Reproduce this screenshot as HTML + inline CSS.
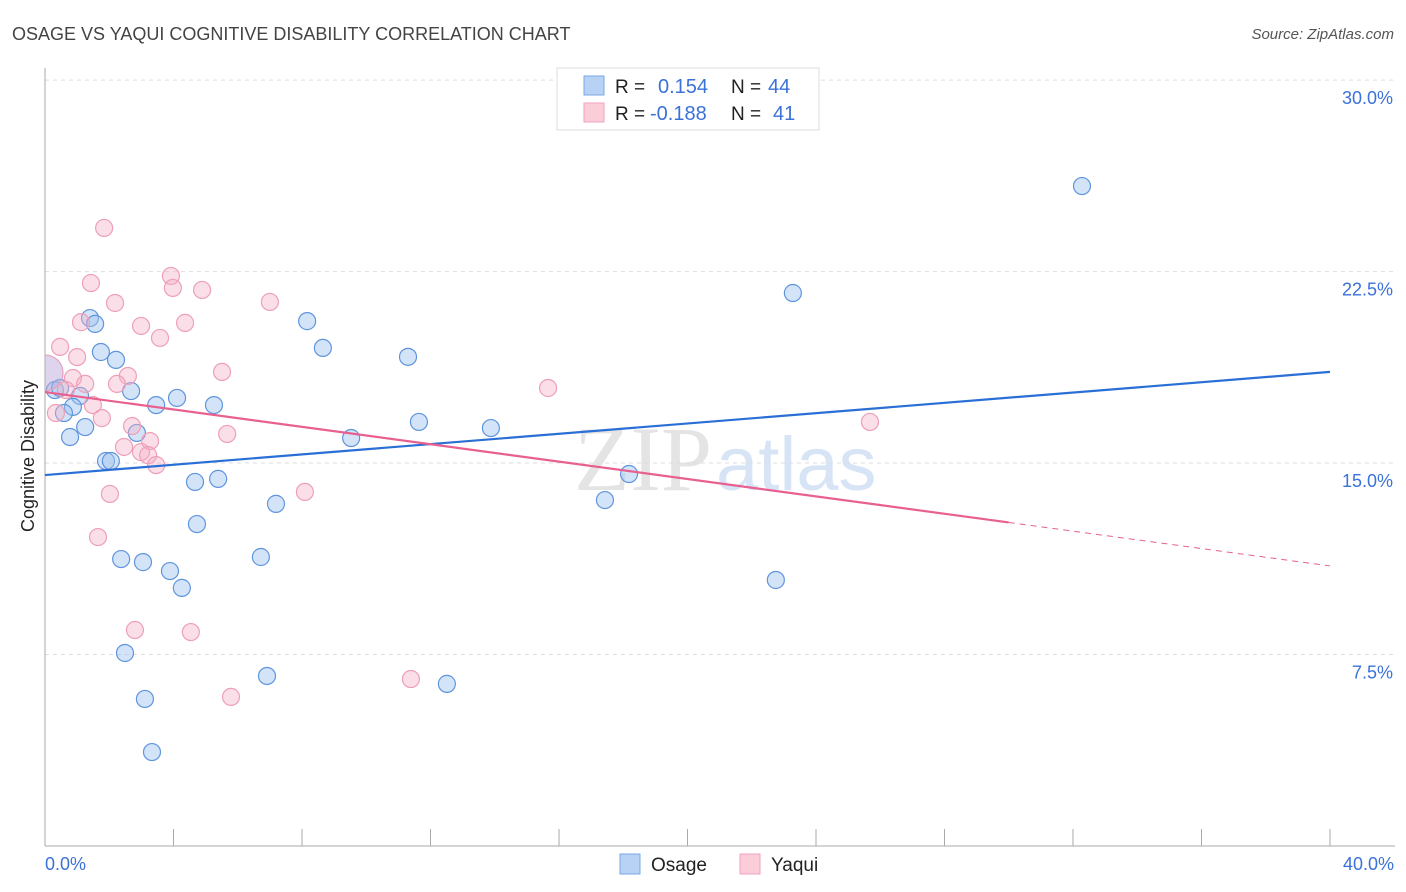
<!DOCTYPE html>
<html><head><meta charset="utf-8"><style>
body{margin:0;background:#fff;font-family:"Liberation Sans",sans-serif;}
#c{position:relative;width:1406px;height:892px;overflow:hidden}
</style></head><body>
<div id="c">
<svg id="s" width="1406" height="892" xmlns="http://www.w3.org/2000/svg">
<defs><clipPath id="plotclip"><rect x="45" y="60" width="1360" height="786"/></clipPath></defs>
<text x="12" y="40" font-size="18" fill="#444">OSAGE VS YAQUI COGNITIVE DISABILITY CORRELATION CHART</text>
<text x="1394" y="39" font-size="15" fill="#555" font-style="italic" text-anchor="end">Source: ZipAtlas.com</text>
<text x="712" y="490" font-size="92" fill="#e4e4e4" text-anchor="end" font-family="Liberation Serif,serif">ZIP</text>
<text x="716" y="490" font-size="76" fill="#d6e4f5">atlas</text>
<g id="grid"></g>
<g id="axes"></g>
<g id="pts" clip-path="url(#plotclip)"></g>
<g id="trend"></g>
<text transform="translate(34,456) rotate(-90)" font-size="18" fill="#222" text-anchor="middle">Cognitive Disability</text>
<text x="45" y="870" font-size="18" fill="#3a72d8">0.0%</text>
<text x="1394" y="870" font-size="18" fill="#3a72d8" text-anchor="end">40.0%</text>
<g>
<rect x="557" y="68" width="262" height="62" fill="#fff" stroke="#ddd"/>
<rect x="584" y="76" width="20" height="19" fill="#b8d2f5" stroke="#7aa7e6"/>
<rect x="584" y="103" width="20" height="19" fill="#fbcdd9" stroke="#f1a3bb"/>
<text x="615" y="93" font-size="19" fill="#222">R =</text><text x="658" y="93" font-size="20" fill="#3a72d8">0.154</text>
<text x="731" y="93" font-size="19" fill="#222">N =</text><text x="768" y="93" font-size="20" fill="#3a72d8">44</text>
<text x="615" y="120" font-size="19" fill="#222">R =</text><text x="650" y="120" font-size="20" fill="#3a72d8">-0.188</text>
<text x="731" y="120" font-size="19" fill="#222">N =</text><text x="773" y="120" font-size="20" fill="#3a72d8">41</text>
</g>
<g>
<rect x="620" y="854" width="20" height="20" fill="#b8d2f5" stroke="#7aa7e6"/>
<text x="651" y="871" font-size="19" fill="#222">Osage</text>
<rect x="740" y="854" width="20" height="20" fill="#fbcdd9" stroke="#f1a3bb"/>
<text x="771" y="871" font-size="19" fill="#222">Yaqui</text>
</g>
</svg>
</div>
<script>
const yTicks=[7.5,15,22.5,30];
const yTickLabels=["7.5%","15.0%","22.5%","30.0%"];
const osageX=[32.28,23.28,8.16,1.40,1.56,8.65,1.74,2.21,11.30,0.31,0.47,1.09,2.68,4.11,3.46,5.26,0.87,0.59,11.64,1.25,13.88,2.86,0.78,9.53,1.90,2.05,18.18,4.67,5.39,7.19,17.43,4.73,2.37,3.05,6.72,3.89,4.26,22.75,2.49,6.91,12.51,3.11,3.33];
const osageY=[25.85,21.66,20.56,20.68,20.45,19.51,19.35,19.04,19.16,17.86,17.94,17.63,17.82,17.55,17.27,17.27,17.20,16.96,16.61,16.41,16.37,16.18,16.02,15.98,15.08,15.08,14.57,14.26,14.38,13.40,13.55,12.61,11.24,11.12,11.32,10.77,10.11,10.42,7.56,6.66,6.35,5.76,3.68];
const yaquiX=[1.84,3.92,1.43,3.98,4.89,2.18,7.00,1.12,2.99,4.36,3.58,0.47,1.00,5.51,0.87,2.58,15.66,1.25,2.24,0.65,1.49,1.77,0.34,25.68,2.71,5.67,3.27,2.46,2.99,3.21,3.46,2.02,8.09,1.65,2.80,4.54,11.39,5.79];
const yaquiY=[24.21,22.33,22.05,21.86,21.78,21.27,21.31,20.52,20.37,20.49,19.90,19.55,19.15,18.57,18.33,18.41,17.94,18.10,18.10,17.86,17.27,16.76,16.96,16.61,16.45,16.14,15.86,15.63,15.43,15.31,14.92,13.79,13.87,12.10,8.46,8.38,6.54,5.84];
const bigPoint=[0,18.53];
const osageTrend=[14.53,18.57];
const yaquiTrend=[17.78,10.97];
const yaquiSolidEnd=30;
const X=v=>45+v*32.125, Y=v=>846-v*25.53;
const NS="http://www.w3.org/2000/svg";
function mk(t,a,p){const e=document.createElementNS(NS,t);for(const k in a)e.setAttribute(k,a[k]);document.getElementById(p).appendChild(e);return e;}
yTicks.forEach((t,i)=>{
 const l=mk('line',{x1:45,x2:1395,y1:Y(t),y2:Y(t),stroke:'#ddd','stroke-dasharray':'4,4'},'grid');
 
 
 const tx=mk('text',{x:1393,y:Y(t)+24,'font-size':18,fill:'#3a72d8','text-anchor':'end'},'grid');
 tx.textContent=yTickLabels[i];
 
 
});
let a=mk('line',{x1:45,x2:1395,y1:846,y2:846,stroke:'#aaa'},'axes');

a=mk('line',{x1:45,x2:45,y1:68,y2:846,stroke:'#aaa'},'axes');

for(let v=0;v<=40;v+=4){
 const t=mk('line',{x1:X(v),x2:X(v),y1:829,y2:846,stroke:'#aaa'},'axes');
 
 
}
osageX.forEach((x,i)=>{
 const c=mk('circle',{cx:X(x),cy:Y(osageY[i]),r:8.5,fill:'rgba(160,196,240,0.45)',stroke:'#5f95dd','stroke-width':1.2},'pts');
 
 
});
yaquiX.forEach((x,i)=>{
 const c=mk('circle',{cx:X(x),cy:Y(yaquiY[i]),r:8.5,fill:'rgba(246,175,198,0.4)',stroke:'#ee9fb8','stroke-width':1.2},'pts');
 
 
});
const b=mk('circle',{cx:X(bigPoint[0]),cy:Y(bigPoint[1]),r:18,fill:'rgba(190,170,220,0.5)',stroke:'#e8a0c0','stroke-width':1.2},'pts');


let l=mk('line',{x1:X(0),y1:Y(osageTrend[0]),x2:X(40),y2:Y(osageTrend[1]),stroke:'#2a6fd6','stroke-width':2.2},'trend');

const yq=v=>yaquiTrend[0]+(yaquiTrend[1]-yaquiTrend[0])*v/40;
l=mk('line',{x1:X(0),y1:Y(yq(0)),x2:X(yaquiSolidEnd),y2:Y(yq(yaquiSolidEnd)),stroke:'#e8608f','stroke-width':2.2},'trend');

l=mk('line',{x1:X(yaquiSolidEnd),y1:Y(yq(yaquiSolidEnd)),x2:X(40),y2:Y(yq(40)),stroke:'#e8608f','stroke-width':1,'stroke-dasharray':'6,5'},'trend');

</script>
</body></html>
